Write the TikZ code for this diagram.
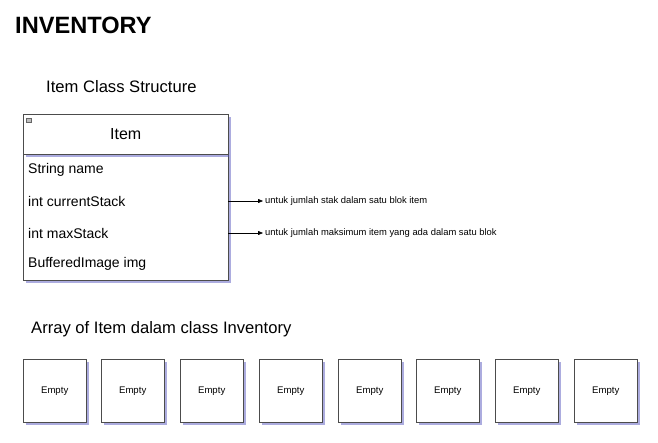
\documentclass[tikz,border=0pt]{standalone}
\usepackage{fontspec}
\setmainfont{Liberation Sans}
\usetikzlibrary{shadows,arrows.meta}

\begin{document}
\begin{tikzpicture}[
    x=1pt, y=-1pt,
    font=\fontsize{14}{16}\selectfont,
    sh/.style={drop shadow={shadow xshift=2.5pt, shadow yshift=-3pt,
               fill=blue!45!gray, opacity=0.45}},
    cls/.style={draw=black!70, fill=white, rectangle, sh,
                minimum width=205pt, inner sep=0pt, anchor=north west},
    fld/.style={anchor=west, inner sep=0pt},
    note/.style={anchor=west, inner sep=0pt, font=\fontsize{9.4}{11}\selectfont},
    slot/.style={draw=black!70, fill=white, rectangle, sh,
                 minimum width=63pt, minimum height=63pt, inner sep=0pt,
                 anchor=north west, font=\fontsize{9.6}{11}\selectfont},
    lbl/.style={anchor=west, inner sep=0pt, font=\fontsize{16.6}{19}\selectfont}
  ]
    \useasboundingbox (0,0) rectangle (658,442);

    %% --- Titles ---
    \node[anchor=west, inner sep=0pt, font=\fontsize{23.6}{26}\selectfont\bfseries]
      (title) at (15,25) {INVENTORY};
    \node[lbl] (clsTitle) at (46,87) {Item Class Structure};

    %% --- Item class ---
    \node[cls, minimum height=126pt] (itemBody) at (23,154) {};
    \node[cls, minimum height=40pt, font=\fontsize{16}{18}\selectfont]
      (itemHead) at (23,114) {Item};
    \node[draw=black!60, fill=black!25, minimum width=5pt, minimum height=4pt,
          inner sep=0pt] (collapse) at (29,120) {};
    \node[fld] (fName) at (28,170) {String name};
    \node[fld] (fCur)  at (28,201) {int currentStack};
    \node[fld] (fMax)  at (28,233) {int maxStack};
    \node[fld] (fImg)  at (28,264) {BufferedImage img};

    %% --- Notes ---
    \node[note] (nCur) at (265,201) {untuk jumlah stak dalam satu blok item};
    \node[note] (nMax) at (265,233) {untuk jumlah maksimum item yang ada dalam satu blok};
    \draw[-{Triangle[length=5pt,width=4pt]}, shorten >=2pt]
      (itemBody.east |- fCur) -- (nCur.west);
    \draw[-{Triangle[length=5pt,width=4pt]}, shorten >=2pt]
      (itemBody.east |- fMax) -- (nMax.west);

    %% --- Array of items ---
    \node[lbl] (arrTitle) at (31,329) {Array of Item dalam class Inventory};
    \node[slot] (s1) at (23,359)  {Empty};
    \node[slot] (s2) at (101,359) {Empty};
    \node[slot] (s3) at (180,359) {Empty};
    \node[slot] (s4) at (259,359) {Empty};
    \node[slot] (s5) at (338,359) {Empty};
    \node[slot] (s6) at (416,359) {Empty};
    \node[slot] (s7) at (495,359) {Empty};
    \node[slot] (s8) at (574,359) {Empty};
  \end{tikzpicture}
\end{document}
